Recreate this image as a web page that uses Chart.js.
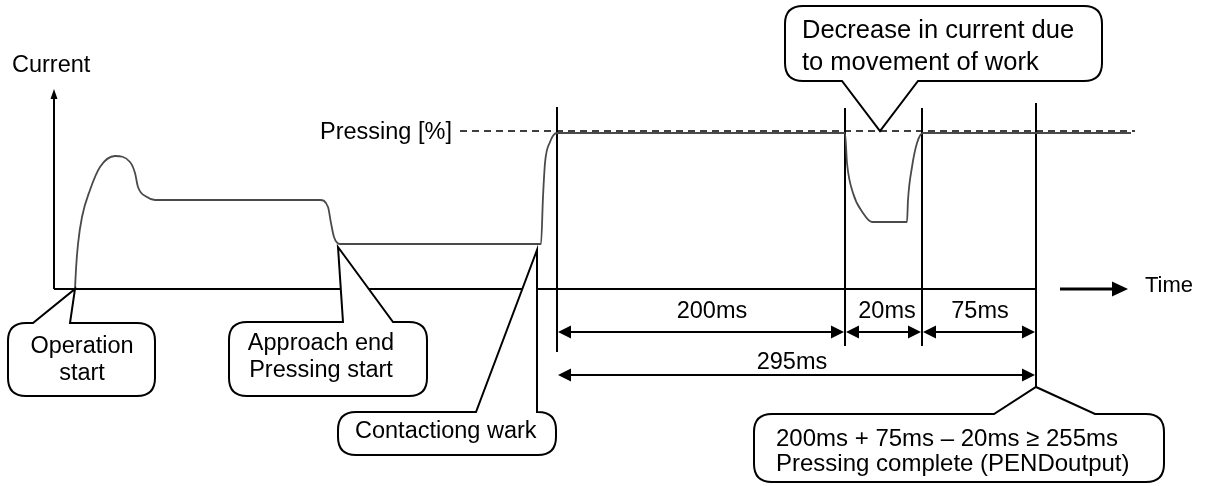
<!DOCTYPE html>
<html>
<head>
<meta charset="utf-8">
<script src="https://cdn.jsdelivr.net/npm/chart.js@4.4.1/dist/chart.umd.min.js"></script>
<style>
  html, body { margin: 0; padding: 0; background: #ffffff; }
  #wrap { width: 1208px; height: 486px; }
</style>
</head>
<body>
<div id="wrap"><canvas id="c" width="1208" height="486"></canvas></div>
<script>
// ---- Data (time units = horizontal diagram units, current units = vertical diagram units) ----
const curveTime    = [21, 22, 24, 28, 36, 46, 61, 76, 81, 84, 93, 101, 266, 274, 277, 280, 286, 487, 489, 491, 496, 503, 791, 793, 799, 809, 818, 853, 854, 858, 863, 869, 1077];
const curveCurrent = [0, 20, 45, 72, 99, 122, 133, 127, 116, 102, 92, 89, 89, 82, 66, 52, 45, 45, 92, 126, 147, 156, 156, 126, 96, 76, 67, 67, 89, 122, 146, 156, 156];

const pressingLevel = 158;           // dashed "Pressing [%]" level
const pressingSpan  = [406, 1081];   // start / end time of dashed line

const markerTimes   = [503, 791, 868, 982];   // vertical event lines
const markerTops    = [182, 181, 181, 186];
const markerBottoms = [-63, -57, -57, -98];

const intervalLabels = ['200ms', '20ms', '75ms'];
const intervalStarts = [503, 791, 868];
const intervalEnds   = [791, 868, 982];
const totalLabel = '295ms';
const totalStart = 503, totalEnd = 982;

const axisLabels = { y: 'Current', x: 'Time', level: 'Pressing [%]' };

const callouts = [
  { lines: ['Operation', 'start'] },
  { lines: ['Approach end', 'Pressing start'] },
  { lines: ['Contactiong wark'] },
  { lines: ['Decrease in current due', 'to movement of work'] },
  { lines: ['200ms + 75ms \u2013 20ms \u2265 255ms', 'Pressing complete (PENDoutput)'] }
];

// ---- Layout geometry (in data units) ----
const calloutGeom = [
  { box: [-46, -34, 101, -107], tail: 'top', tailA: -21, tailB: 16, tip: [21, 0], align: 'center', tx: 28, ty: [-64, -91], font: 23.5 },
  { box: [175, -33, 373, -107], tail: 'top', tailA: 289, tailB: 339, tip: [284, 42], align: 'center', tx: 267, ty: [-61, -88], font: 23.5 },
  { box: [284, -123, 502, -166], tail: 'top', tailA: 422, tailB: 483, tip: [483, 39], align: 'left', tx: 301, ty: [-149], font: 23.5 },
  { box: [731, 283, 1048, 208], tail: 'bottom', tailA: 788, tailB: 864, tip: [826, 158], align: 'left', tx: 748, ty: [251, 219], font: 25.5 },
  { box: [700, -125, 1110, -193], tail: 'top', tailA: 940, tailB: 1041, tip: [982, -98], align: 'left', tx: 722, ty: [-157, -182], font: 24 }
];

const FONT = '"Liberation Sans", Arial, Helvetica, sans-serif';

function seg(x0, y0, x1, y1, w, dash) {
  return { type: 'line', data: [{x: x0, y: y0}, {x: x1, y: y1}], borderColor: '#000', borderWidth: w || 2,
           borderDash: dash || [], pointRadius: 0, tension: 0, fill: false };
}

const datasets = [];
// current curve
datasets.push({
  type: 'line',
  data: curveTime.map((t, i) => ({ x: t, y: curveCurrent[i] })),
  borderColor: '#4a4a4a', borderWidth: 1.8, pointRadius: 0, fill: false,
  cubicInterpolationMode: 'monotone'
});
// dashed level
datasets.push(seg(pressingSpan[0], pressingLevel, pressingSpan[1], pressingLevel, 1.6, [7, 5]));
// axes
datasets.push(seg(0, 0, 0, 194, 2));
datasets.push(seg(0, 0, 983, 0, 2));
datasets.push(seg(1006, 0, 1062, 0, 3));
// markers
markerTimes.forEach((t, i) => datasets.push(seg(t, markerTops[i], t, markerBottoms[i], 2)));
// dimension lines
const row1 = -43, row2 = -86;
intervalStarts.forEach((s, i) => datasets.push(seg(s + 12, row1, intervalEnds[i] - 12, row1, 2)));
datasets.push(seg(totalStart + 12, row2, totalEnd - 12, row2, 2));

const overlay = {
  id: 'overlay',
  afterDatasetsDraw(chart) {
    const ctx = chart.ctx;
    const xs = chart.scales.x, ys = chart.scales.y;
    const X = v => xs.getPixelForValue(v), Y = v => ys.getPixelForValue(v);
    ctx.save();
    ctx.fillStyle = '#000';
    ctx.strokeStyle = '#000';

    function arrow(tx, ty, dx, dy, len, hw) {
      const px = -dy, py = dx;
      ctx.beginPath();
      ctx.moveTo(tx, ty);
      ctx.lineTo(tx - dx * len + px * hw, ty - dy * len + py * hw);
      ctx.lineTo(tx - dx * len - px * hw, ty - dy * len - py * hw);
      ctx.closePath();
      ctx.fill();
    }
    // axis arrows
    arrow(X(0), Y(200), 0, -1, 10, 3.5);
    arrow(X(1074), Y(0), 1, 0, 16, 7.5);

    // dimension arrows
    intervalStarts.forEach((s, i) => {
      arrow(X(s) + 1, Y(row1), -1, 0, 13, 6.5);
      arrow(X(intervalEnds[i]) - 1, Y(row1), 1, 0, 13, 6.5);
    });
    arrow(X(totalStart) + 1, Y(row2), -1, 0, 13, 6.5);
    arrow(X(totalEnd) - 1, Y(row2), 1, 0, 13, 6.5);

    // dimension labels
    ctx.font = '23.5px ' + FONT;
    ctx.textAlign = 'center';
    ctx.textBaseline = 'alphabetic';
    const labelCenters = [658, 833, 926];
    intervalLabels.forEach((l, i) => ctx.fillText(l, X(labelCenters[i]), Y(-29)));
    ctx.fillText(totalLabel, X(738), Y(-80));

    // axis texts
    ctx.textAlign = 'left';
    ctx.fillText(axisLabels.y, X(-42), Y(217));
    ctx.fillText(axisLabels.level, X(266), Y(150));
    ctx.font = '22px ' + FONT;
    ctx.fillText(axisLabels.x, X(1091), Y(-3));

    // callouts
    callouts.forEach((c, i) => {
      const g = calloutGeom[i];
      const x0 = X(g.box[0]), y0 = Y(g.box[1]), x1 = X(g.box[2]), y1 = Y(g.box[3]);
      const r = 18;
      const tA = X(g.tailA), tB = X(g.tailB), tipX = X(g.tip[0]), tipY = Y(g.tip[1]);
      ctx.beginPath();
      ctx.moveTo(x0 + r, y0);
      if (g.tail === 'top') { ctx.lineTo(tA, y0); ctx.lineTo(tipX, tipY); ctx.lineTo(tB, y0); }
      ctx.lineTo(Math.max(x1 - r, tB), y0);
      ctx.quadraticCurveTo(x1, y0, x1, y0 + r);
      ctx.lineTo(x1, y1 - r);
      ctx.quadraticCurveTo(x1, y1, x1 - r, y1);
      if (g.tail === 'bottom') { ctx.lineTo(tB, y1); ctx.lineTo(tipX, tipY); ctx.lineTo(tA, y1); }
      ctx.lineTo(x0 + r, y1);
      ctx.quadraticCurveTo(x0, y1, x0, y1 - r);
      ctx.lineTo(x0, y0 + r);
      ctx.quadraticCurveTo(x0, y0, x0 + r, y0);
      ctx.closePath();
      ctx.fillStyle = '#fff';
      ctx.fill();
      ctx.lineWidth = 2;
      ctx.lineJoin = 'miter';
      ctx.stroke();
      ctx.fillStyle = '#000';
      ctx.font = g.font + 'px ' + FONT;
      ctx.textAlign = g.align;
      c.lines.forEach((ln, k) => ctx.fillText(ln, X(g.tx), Y(g.ty[k])));
    });
    ctx.restore();
  }
};

new Chart(document.getElementById('c'), {
  type: 'line',
  data: { datasets },
  options: {
    responsive: false,
    devicePixelRatio: 1,
    animation: false,
    layout: { padding: 0 },
    plugins: { legend: { display: false }, tooltip: { enabled: false }, title: { display: false } },
    scales: {
      x: { type: 'linear', min: -54, max: 1154, display: false },
      y: { type: 'linear', min: -197, max: 289, display: false }
    }
  },
  plugins: [overlay]
});
</script>
</body>
</html>
